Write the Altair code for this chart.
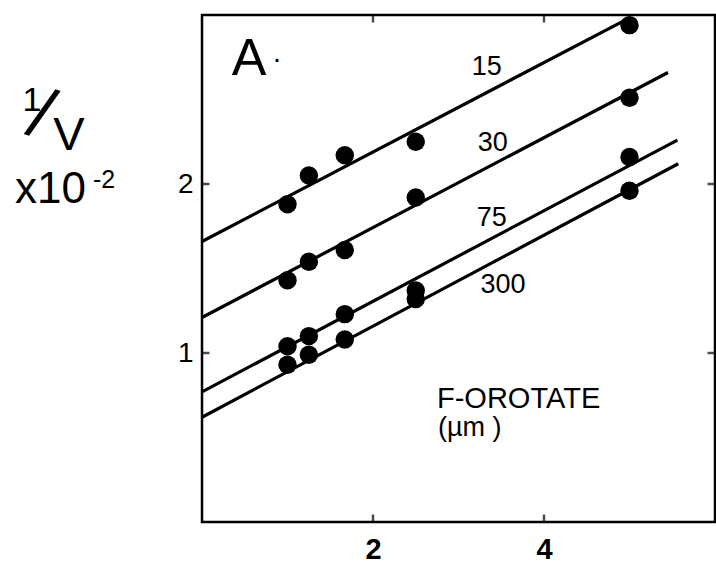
import altair as alt
import pandas as pd

# Reciprocal substrate concentration (x axis) for every series
recip_s = [1.0, 1.25, 1.67, 2.5, 5.0]

# 1/V (x10^-2) measured at each F-orotate concentration (µM)
series_names = ["15", "30", "75", "300"]
v15 = [1.88, 2.05, 2.17, 2.25, 2.94]
v30 = [1.43, 1.54, 1.61, 1.92, 2.51]
v75 = [1.04, 1.10, 1.23, 1.37, 2.16]
v300 = [0.93, 0.99, 1.08, 1.32, 1.96]

# Fitted line end points for each series
line_x0 = [0.0, 0.0, 0.0, 0.0]
line_y0 = [1.66, 1.21, 0.77, 0.62]
line_x1 = [4.95, 5.45, 5.56, 5.57]
line_y1 = [2.97, 2.66, 2.26, 2.12]

# Series label positions
label_x = [3.33, 3.40, 3.39, 3.52]
label_y = [2.69, 2.24, 1.80, 1.40]

x_ticks = [2, 4]
y_ticks = [1, 2]
x_min, x_max = 0, 6
y_min, y_max = 0, 3

FONT = "Liberation Sans"

pts = pd.DataFrame(
    [
        {"series": s, "x": x, "y": y}
        for s, vals in zip(series_names, [v15, v30, v75, v300])
        for x, y in zip(recip_s, vals)
    ]
)
lines = pd.DataFrame(
    [{"series": s, "x": a, "y": b} for s, a, b in zip(series_names, line_x0, line_y0)]
    + [{"series": s, "x": a, "y": b} for s, a, b in zip(series_names, line_x1, line_y1)]
)
labels = pd.DataFrame({"label": series_names, "x": label_x, "y": label_y})

xs = alt.Scale(domain=[x_min, x_max], nice=False, zero=False)
ys = alt.Scale(domain=[y_min, y_max], nice=False, zero=False)

x_axis = alt.Axis(
    values=x_ticks, format="d", domain=False, grid=False, title=None, ticks=False,
    labelFontSize=29, labelFontWeight="bold", labelFont=FONT,
    labelColor="black", labelPadding=13,
)
y_axis = alt.Axis(
    values=y_ticks, format="d", domain=False, grid=False, title=None, ticks=False,
    labelFontSize=28, labelFont=FONT, labelColor="black", labelPadding=9,
)

line_layer = alt.Chart(lines).mark_line(color="black", strokeWidth=3.2).encode(
    x=alt.X("x:Q", scale=xs, axis=x_axis),
    y=alt.Y("y:Q", scale=ys, axis=y_axis),
    detail="series:N",
)

point_layer = alt.Chart(pts).mark_circle(size=340, color="black", opacity=1).encode(
    x=alt.X("x:Q", scale=xs, axis=x_axis),
    y=alt.Y("y:Q", scale=ys, axis=y_axis),
)

label_layer = alt.Chart(labels).mark_text(
    font=FONT, fontSize=27, color="black"
).encode(
    x=alt.X("x:Q", scale=xs, axis=x_axis),
    y=alt.Y("y:Q", scale=ys, axis=y_axis),
    text="label:N",
)

# Inward-pointing ticks on all four sides of the frame
def frame_ticks(xv, yv, orient):
    return alt.Chart(pd.DataFrame({"x": xv, "y": yv})).mark_tick(
        orient=orient, size=15, thickness=2.5, color="black", clip=True
    ).encode(
        x=alt.X("x:Q", scale=xs, axis=x_axis),
        y=alt.Y("y:Q", scale=ys, axis=y_axis),
    )

tick_layers = [
    frame_ticks(x_ticks, [y_min] * len(x_ticks), "vertical"),
    frame_ticks(x_ticks, [y_max] * len(x_ticks), "vertical"),
    frame_ticks([x_min] * len(y_ticks), y_ticks, "horizontal"),
    frame_ticks([x_max] * len(y_ticks), y_ticks, "horizontal"),
]

def note(text, x, y, size, align="center", baseline="middle", angle=0, weight="normal"):
    return alt.Chart(pd.DataFrame({"t": [text]})).mark_text(
        font=FONT, fontSize=size, color="black", align=align,
        baseline=baseline, angle=angle, fontWeight=weight,
    ).encode(x=alt.value(x), y=alt.value(y), text="t:N")

annotations = [
    note("A", 47, 60, 52, baseline="alphabetic"),
    note("·", 75, 44, 30),
    note("F-OROTATE", 235, 393, 29, align="left", baseline="alphabetic"),
    note("(µm )", 236, 421, 27, align="left", baseline="alphabetic"),
    # y axis title: 1/V x10^-2
    note("1", -170, 86, 34),
    note("/", -161, 101, 72, angle=20),
    note("V", -133, 121, 47),
    note("x10", -187, 188, 44, align="left", baseline="alphabetic"),
    note("-2", -109, 173, 25, align="left", baseline="alphabetic"),
]

chart = (
    alt.layer(line_layer, point_layer, label_layer, *tick_layers, *annotations)
    .properties(
        width=513,
        height=507,
        autosize="none",
        padding={"left": 202, "top": 15, "right": 1, "bottom": 42},
        background="white",
    )
    .configure_view(stroke="black", strokeWidth=2.5)
)

chart.save("out.html", embed_options={"renderer": "svg", "actions": False})
